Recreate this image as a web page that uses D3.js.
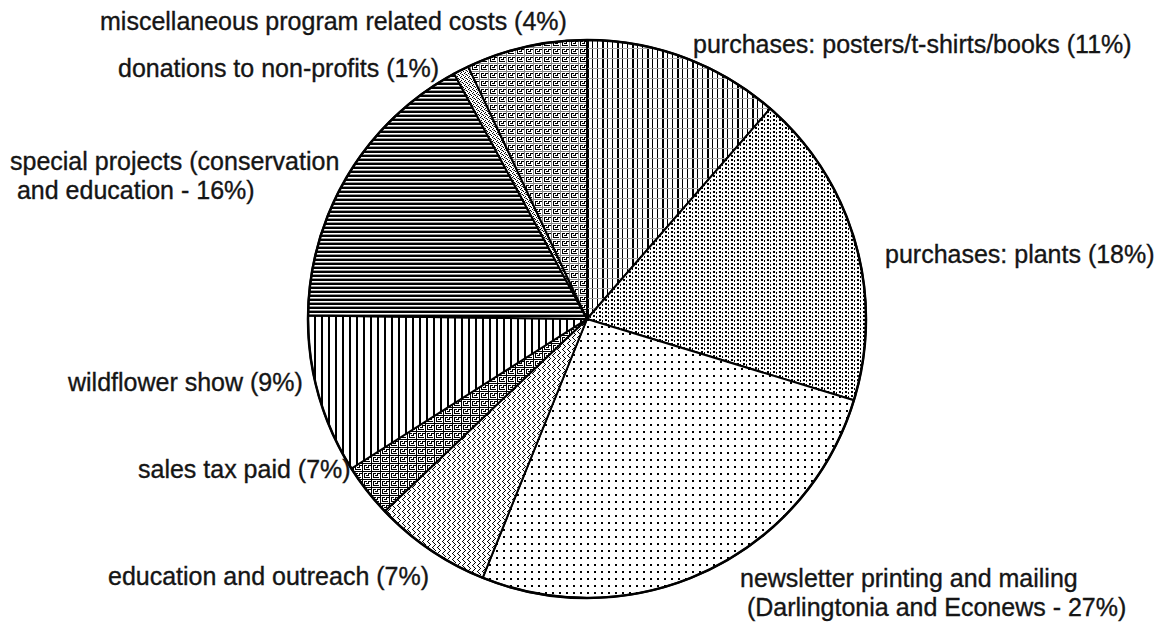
<!DOCTYPE html>
<html>
<head>
<meta charset="utf-8">
<script src="https://cdn.jsdelivr.net/npm/d3@7"></script>
<style>
  body { margin: 0; background: #fff; }
  text { font-family: "Liberation Sans", Arial, sans-serif; font-size: 25px; fill: #151515; stroke: #151515; stroke-width: 0.35px; }
</style>
</head>
<body>
<div id="chart"></div>
<script>
// Slices, clockwise from 12 o'clock
const categories = ["posters", "plants", "newsletter", "education", "salesTax",
                    "wildflower", "special", "donations", "misc"];
const values = [11.4, 18.3, 26.4, 6.8, 3.1, 9.2, 16.9, 0.9, 7.0];

// Label text, one entry per slice, split into lines
const labelLines = [
  ["purchases: posters/t-shirts/books (11%)"],
  ["purchases: plants (18%)"],
  ["newsletter printing and mailing", " (Darlingtonia and Econews - 27%)"],
  ["education and outreach (7%)"],
  ["sales tax paid (7%)"],
  ["wildflower show (9%)"],
  ["special projects (conservation", " and education - 16%)"],
  ["donations to non-profits (1%)"],
  ["miscellaneous program related costs (4%)"]
];

// Label placement (left x, first baseline y)
const labelPos = [
  [693, 53], [885, 263], [740, 587], [108, 585], [138, 478],
  [68, 391], [10, 170], [118, 77], [100, 30]
];

const W = 1163, H = 630;
const cx = 587, cy = 319, radius = 279;

const svg = d3.select("#chart")
    .append("svg")
    .attr("width", W)
    .attr("height", H);

const defs = svg.append("defs");

// helper: 1-bit pixel pattern made of rects
function pattern(id, w, h, rects) {
  const p = defs.append("pattern")
      .attr("id", id)
      .attr("patternUnits", "userSpaceOnUse")
      .attr("width", w)
      .attr("height", h);
  p.append("rect").attr("width", w).attr("height", h).attr("fill", "#fff");
  rects.forEach(r => {
    p.append("rect")
      .attr("x", r[0]).attr("y", r[1])
      .attr("width", r[2]).attr("height", r[3])
      .attr("fill", r[4] || "#000")
      .attr("shape-rendering", "crispEdges");
  });
}

// greek-key glyph from a small bitmap
function keyRects(rows, grid) {
  const out = [];
  rows.forEach((row, y) => {
    for (let x = 0; x < row.length; x++) {
      if (row[x] === "#") out.push([x, y, 1, 1]);
      if (row[x] === "+") out.push([x, y, 1, 1, grid]);
    }
  });
  return out;
}
const keyBitmap = [
  "+++++++++",
  "+........",
  "+.###.###",
  "+.#...#..",
  "+.#.###..",
  "+.#......",
  "+.######.",
  "+........"
];

pattern("p-posters", 15, 10, [[0, 0, 2, 10], [5, 0, 1, 10], [10, 0, 1, 10], [0, 9, 15, 1, "#aaa"]]);
pattern("p-plants", 6, 4, [[0, 0, 2, 2], [3, 1, 1, 2]]);
pattern("p-newsletter", 7, 7, [[0, 0, 2, 2]]);
pattern("p-education", 5, 6, [[0, 0, 1, 1], [1, 1, 1, 1], [2, 2, 1, 1], [3, 3, 1, 1], [2, 4, 1, 1], [1, 5, 1, 1]]);
pattern("p-salesTax", 9, 8, keyRects(keyBitmap, "#000"));
pattern("p-wildflower", 7, 4, [[0, 0, 2, 4]]);
pattern("p-special", 5, 4, [[0, 0, 5, 2], [0, 3, 5, 1, "#999"]]);
pattern("p-donations", 4, 4, [[0, 0, 1, 1], [2, 1, 1, 1], [1, 2, 1, 1], [3, 3, 1, 1], [2, 3, 1, 1, "#999"]]);
pattern("p-misc", 9, 8, keyRects(keyBitmap, "#888"));

const pie = d3.pie().sort(null).value(d => d.value);
const arc = d3.arc().innerRadius(0).outerRadius(radius);

const data = categories.map((c, i) => ({ key: c, value: values[i] }));

const g = svg.append("g").attr("transform", `translate(${cx},${cy})`);

g.selectAll("path.slice")
  .data(pie(data))
  .join("path")
    .attr("class", "slice")
    .attr("d", arc)
    .attr("fill", d => `url(#p-${d.data.key})`)
    .attr("stroke", "#000")
    .attr("stroke-width", 2)
    .attr("stroke-linejoin", "round");

// outer rim
g.append("circle")
  .attr("r", radius)
  .attr("fill", "none")
  .attr("stroke", "#000")
  .attr("stroke-width", 2.5);

// Labels
const labels = svg.append("g");
labelLines.forEach((lines, i) => {
  const t = labels.append("text")
      .attr("x", labelPos[i][0])
      .attr("y", labelPos[i][1])
      .attr("xml:space", "preserve");
  lines.forEach((line, j) => {
    t.append("tspan")
      .attr("x", labelPos[i][0])
      .attr("dy", j === 0 ? 0 : 29)
      .text(line);
  });
});
</script>
</body>
</html>
